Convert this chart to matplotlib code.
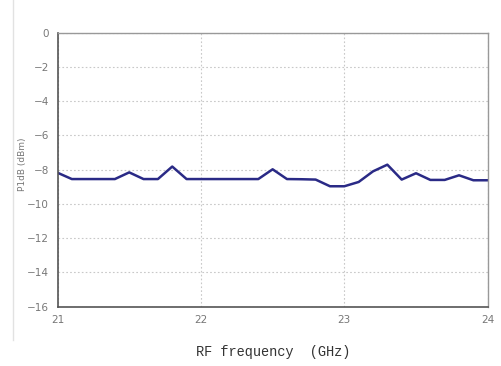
import matplotlib
matplotlib.use("Agg")
import matplotlib.pyplot as plt
from matplotlib.lines import Line2D

# ---------------------------------------------------
# data
# ---------------------------------------------------
freq_ghz = [21.0, 21.1, 21.2, 21.3, 21.4, 21.5, 21.6, 21.7, 21.8, 21.9,
            22.0, 22.1, 22.2, 22.3, 22.4, 22.5, 22.6, 22.7, 22.8, 22.9,
            23.0, 23.1, 23.2, 23.3, 23.4, 23.5, 23.6, 23.7, 23.8, 23.9, 24.0]
p1db_dbm = [-8.18, -8.55, -8.55, -8.55, -8.55, -8.16, -8.55, -8.55, -7.82, -8.55,
            -8.55, -8.55, -8.55, -8.55, -8.55, -7.98, -8.55, -8.56, -8.58, -8.97,
            -8.97, -8.72, -8.10, -7.71, -8.58, -8.21, -8.60, -8.60, -8.33, -8.62, -8.62]
x_ticks = [21, 22, 23, 24]
y_ticks = [0, -2, -4, -6, -8, -10, -12, -14, -16]

fig = plt.figure(figsize=(5.01, 3.66), dpi=100)
ax = fig.add_axes([0.1148, 0.162, 0.8587, 0.749])

ax.plot(freq_ghz, p1db_dbm, color="#2a2a86", linewidth=1.8)

ax.set_xlim(21, 24)
ax.set_ylim(-16, 0)
ax.set_xticks(x_ticks)
ax.set_yticks(y_ticks)
ax.set_yticklabels([f"\u2212{abs(v)}" if v < 0 else str(v) for v in y_ticks])
ax.tick_params(length=0, labelsize=7.5, colors="#777777", pad=6)

ax.grid(True, color="#c8c8c8", linestyle=(0, (1.5, 2)), linewidth=0.8)
for side in ["left", "bottom"]:
    ax.spines[side].set_color("#555555")
    ax.spines[side].set_linewidth(1.2)
for side in ["top", "right"]:
    ax.spines[side].set_color("#999999")
    ax.spines[side].set_linewidth(1.0)

fig.text(0.045, 0.55, "P1dB (dBm)", rotation=90, fontsize=6.5,
         color="#777777", ha="center", va="center")
fig.text(0.546, 0.038, "RF frequency  (GHz)", fontsize=9.8,
         family=["Liberation Mono", "DejaVu Serif"], color="#333333",
         ha="center", va="center")

# faint page border on the left
fig.add_artist(Line2D([0.026, 0.026], [0.07, 1.0], color="#e2e2e2",
                      linewidth=1.0, transform=fig.transFigure))

fig.savefig("out.png", dpi=100)
